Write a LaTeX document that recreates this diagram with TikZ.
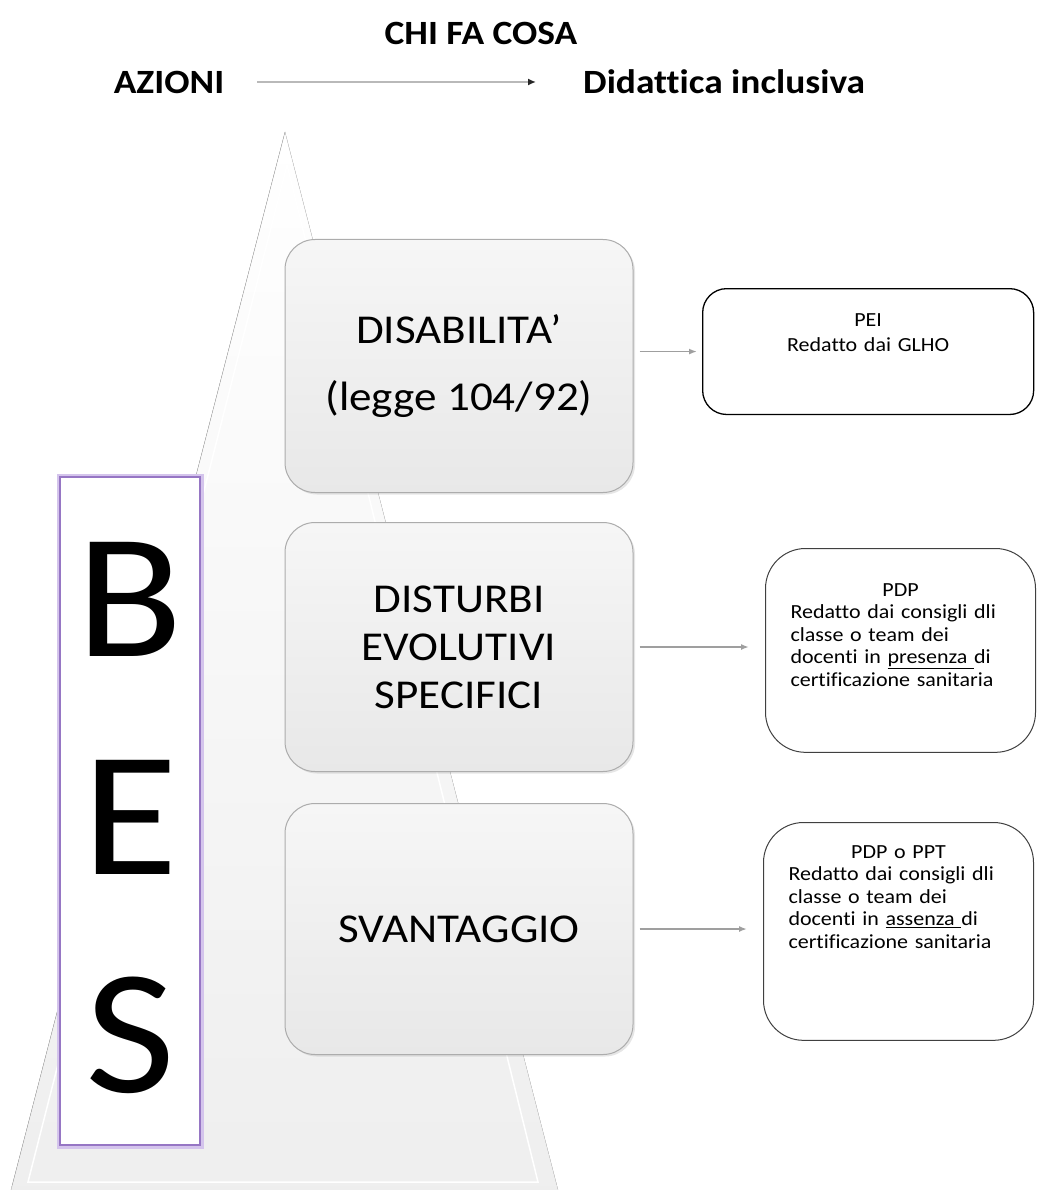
\documentclass[tikz,border=0pt]{standalone}
\usepackage{fontspec}
\setmainfont{Carlito}[FakeStretch=1.1,Ligatures=NoCommon]
\usetikzlibrary{positioning,arrows.meta,shadows}
\definecolor{mypurple}{RGB}{150,118,196}
\definecolor{mylilac}{RGB}{212,196,236}

\begin{document}
\begin{tikzpicture}[x=1pt,y=-1pt,
    headline/.style={font=\bfseries\fontsize{34}{40}\selectfont,inner sep=0pt},
    bisogno/.style={draw=gray!65,line width=1pt,rounded corners=30pt,
      top color=gray!7,bottom color=gray!18,
      drop shadow={shadow xshift=2pt,shadow yshift=-2pt,opacity=0.2},
      minimum width=348pt,align=center,font=\fontsize{41}{48}\selectfont},
    piano/.style={draw=black!75,line width=1pt,fill=white,inner xsep=25pt,
      anchor=north west,font=\fontsize{20}{22.5}\selectfont},
    bes/.style={draw=mypurple,line width=2.5pt,fill=white,
      preaction={draw=mylilac,line width=7pt},
      minimum width=140pt,minimum height=668pt,inner sep=0pt,
      text width=140pt,align=center,font=\fontsize{178}{218}\selectfont},
    freccia/.style={draw=gray!75,line width=1.6pt,-{Latex[length=8pt,width=6pt]}}
  ]
  \useasboundingbox (0,0) rectangle (1036,1190);

  % the pyramid behind everything
  \fill[top color=white,bottom color=gray!13] (285,132) -- (11,1190) -- (558,1190) -- cycle;
  \draw[gray!60] (285,132) -- (11,1190);
  \draw[gray!30] (285,132) -- (558,1190);
  \draw[white,line width=1.5pt] (287,165) -- (28,1182) -- (538,1182) -- cycle;

  % the heading
  \node[headline] (chi) at (481,33) {CHI FA COSA};
  \node[headline] (azioni) at (169,82) {AZIONI};
  \node[headline,anchor=west] (didattica) at (583,82) {Didattica inclusiva};
  \draw[freccia,draw=gray!55,-{Latex[length=8pt,width=7pt,color=black!85]},
    shorten <=33pt,shorten >=47pt] (azioni.east) -- (didattica.west |- azioni.east);

  % the BES column
  \node[bes,text height=128pt] (bes) at (130,811) {B\\E\\S};

  % the three kinds of needs
  \node[bisogno,minimum height=253pt] (dis) at (459,366) {DISABILITA’\\[19pt](legge 104/92)};
  \node[bisogno,minimum height=249pt] (dse) at (459,647) {DISTURBI\\EVOLUTIVI\\SPECIFICI};
  \node[bisogno,minimum height=251pt] (sva) at (459,929) {SVANTAGGIO};

  % the plans
  \node[piano,rounded corners=24pt,line width=1.3pt,draw=black,inner ysep=25pt,
    text width=281pt,align=center,text depth=63pt] (pei) at (702,288)
    {PEI\\[2.5pt]Redatto dai GLHO};
  \node[piano,rounded corners=40pt,inner ysep=35pt,text width=220pt,align=left,
    text depth=121pt] (pdp) at (765,548)
    {\makebox[\linewidth]{PDP}\\Redatto dai consigli dli\\classe o team dei\\
     docenti in \underline{presenza\ }di\\certificazione sanitaria};
  \node[piano,rounded corners=40pt,inner ysep=23pt,text width=220pt,align=left,
    text depth=159pt] (ppt) at (763,822)
    {\makebox[\linewidth]{PDP o PPT}\\Redatto dai consigli dli\\classe o team dei\\
     docenti in \underline{assenza\ }di\\certificazione sanitaria};

  % the edges
  \draw[freccia,shorten <=6pt,shorten >=5pt] (pei.west -| dis.east) -- (pei.west);
  \draw[freccia,shorten <=6pt,shorten >=16pt] (dse.east) -- (dse.east -| pdp.west);
  \draw[freccia,shorten <=6pt,shorten >=16pt] (sva.east) -- (sva.east -| ppt.west);
\end{tikzpicture}
\end{document}
